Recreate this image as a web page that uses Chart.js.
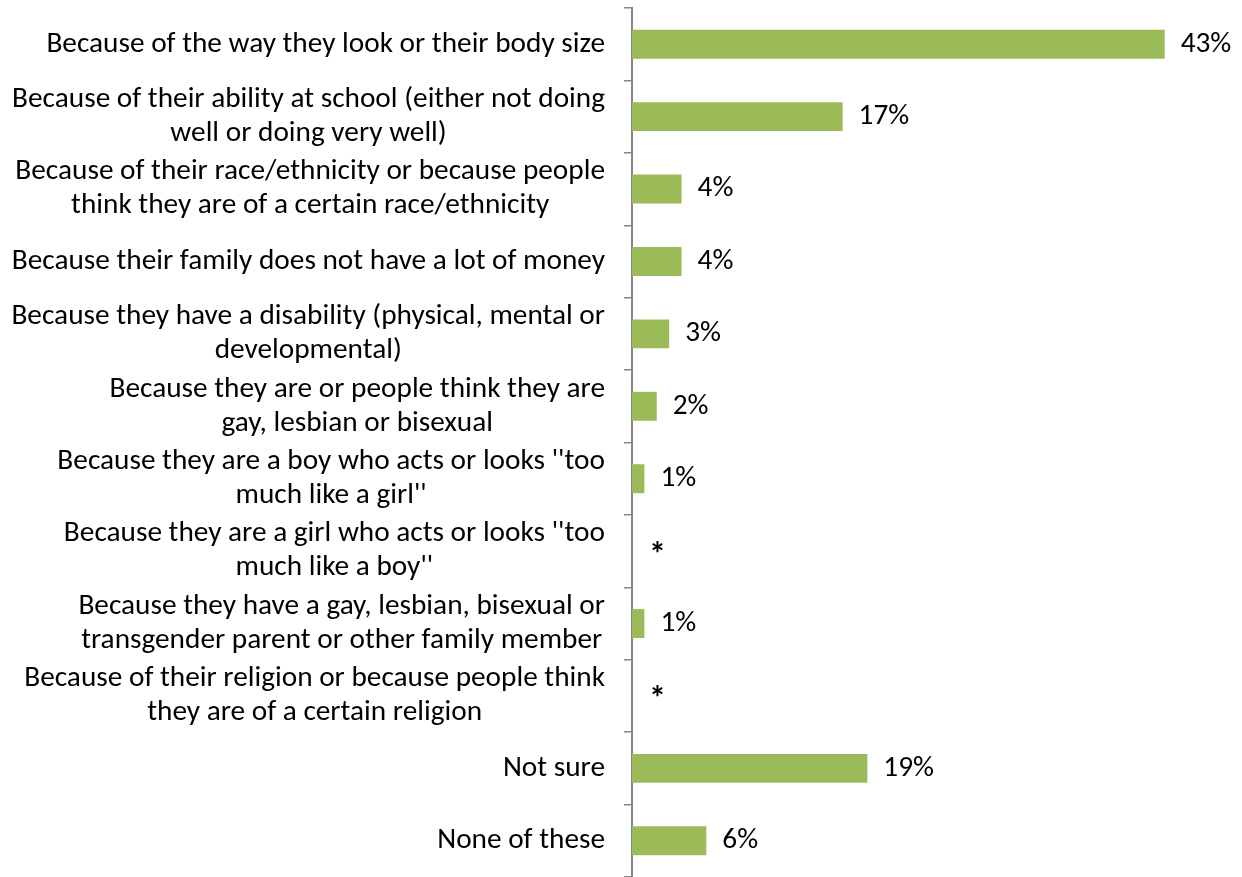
<!DOCTYPE html>
<html>
<head>
<meta charset="utf-8">
<script src="https://cdn.jsdelivr.net/npm/chart.js@4"></script>
<style>
  html, body { margin: 0; padding: 0; background: #ffffff; }
  #wrap { width: 1242px; height: 877px; }
</style>
</head>
<body>
<div id="wrap"><canvas id="c" width="1242" height="877"></canvas></div>
<script>
const categories = [
  ["Because of the way they look or their body size"],
  ["Because of their ability at school (either not doing", "well or doing very well)"],
  ["Because of their race/ethnicity or because people", "think they are of a certain race/ethnicity"],
  ["Because their family does not have a lot of money"],
  ["Because they have a disability (physical, mental or", "developmental)"],
  ["Because they are or people think they are", "gay, lesbian or bisexual"],
  ["Because they are a boy who acts or looks ''too", "much like a girl''"],
  ["Because they are a girl who acts or looks ''too", "much like a boy''"],
  ["Because they have a gay, lesbian, bisexual or", "transgender parent or other family member"],
  ["Because of their religion or because people think", "they are of a certain religion"],
  ["Not sure"],
  ["None of these"]
];
const values = [43, 17, 4, 4, 3, 2, 1, 0, 1, 0, 19, 6];
const valueLabels = ["43%", "17%", "4%", "4%", "3%", "2%", "1%", "*", "1%", "*", "19%", "6%"];

const FONT_FAMILY = "Carlito, 'Open Sans', sans-serif";
const FONT_SIZE = 29.3;

const labelPlugin = {
  id: 'labelPlugin',
  afterDraw(chart) {
    const ctx = chart.ctx;
    const y = chart.scales.y;
    const x = chart.scales.x;
    ctx.save();
    ctx.fillStyle = '#000000';
    ctx.textBaseline = 'middle';
    ctx.font = FONT_SIZE + 'px ' + FONT_FAMILY;
    const rightEdge = chart.chartArea.left - 27;
    const lineH = 34;
    categories.forEach((lines, i) => {
      const cy = y.getPixelForValue(i);
      let maxW = 0;
      lines.forEach(l => { maxW = Math.max(maxW, ctx.measureText(l).width); });
      const cx = rightEdge - maxW / 2;
      ctx.textAlign = 'center';
      const startY = cy - (lines.length - 1) * lineH / 2;
      lines.forEach((l, k) => ctx.fillText(l, cx, startY + k * lineH));
    });
    ctx.textAlign = 'left';
    values.forEach((v, i) => {
      const lab = valueLabels[i];
      const px = x.getPixelForValue(v) + 16;
      const py = y.getPixelForValue(i);
      if (lab === '*') {
        ctx.font = 'bold 34px ' + FONT_FAMILY;
        ctx.fillText(lab, px + 1, py + 5);
      } else {
        ctx.font = FONT_SIZE + 'px ' + FONT_FAMILY;
        ctx.fillText(lab, px, py);
      }
    });
    ctx.restore();
  }
};

new Chart(document.getElementById('c'), {
  type: 'bar',
  data: {
    labels: categories,
    datasets: [{
      data: values,
      backgroundColor: '#9BBB59',
      borderWidth: 0,
      categoryPercentage: 1.0,
      barPercentage: 0.4
    }]
  },
  options: {
    indexAxis: 'y',
    responsive: false,
    animation: false,
    layout: { padding: { top: 8, right: 3, bottom: 0, left: 0 } },
    plugins: { legend: { display: false }, tooltip: { enabled: false } },
    scales: {
      x: { display: false, min: 0, max: 49 },
      y: {
        grid: {
          offset: true,
          drawOnChartArea: false,
          drawTicks: true,
          tickLength: 8,
          color: '#868686',
          lineWidth: 1.5
        },
        border: { display: true, color: '#868686', width: 2 },
        ticks: { display: false },
        afterFit(scale) { scale.width = 632; }
      }
    }
  },
  plugins: [labelPlugin]
});
</script>
</body>
</html>
